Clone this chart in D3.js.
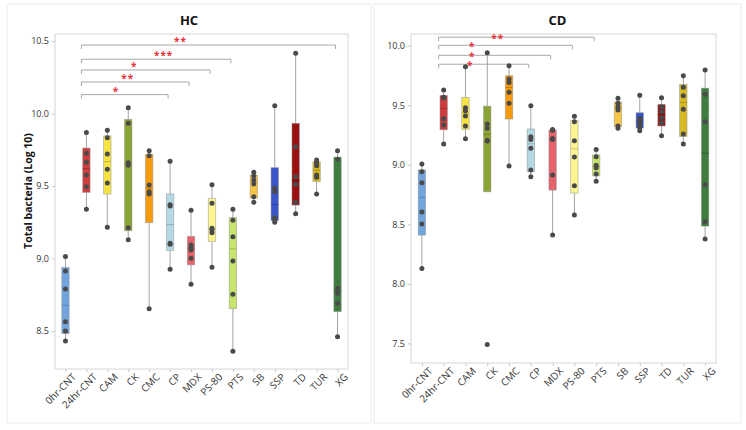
<!DOCTYPE html>
<html>
<head>
<meta charset="utf-8">
<script src="https://cdn.jsdelivr.net/npm/d3@7"></script>
<style>
  body { margin: 0; background: #fff; }
  svg { display: block; font-family: "Open Sans", "Noto Sans", sans-serif; }
</style>
</head>
<body>
<div id="root"><svg width="746" height="430"></svg></div>
<script>
// categories along the x axis
const categories = ['0hr-CNT', '24hr-CNT', 'CAM', 'CK', 'CMC', 'CP', 'MDX', 'PS-80', 'PTS', 'SB', 'SSP', 'TD', 'TUR', 'XG'];

// HC replicates (log10 total bacteria)
const hcValues = [
  [8.431, 8.500, 8.564, 8.790, 8.914, 9.013],
  [9.339, 9.495, 9.576, 9.663, 9.726, 9.868],
  [9.215, 9.521, 9.615, 9.721, 9.833, 9.884],
  [9.130, 9.212, 9.643, 9.661, 9.932, 10.040],
  [8.654, 9.445, 9.461, 9.507, 9.709, 9.743],
  [8.925, 9.098, 9.105, 9.362, 9.370, 9.670],
  [8.822, 9.001, 9.059, 9.077, 9.093, 9.332],
  [8.939, 9.178, 9.197, 9.208, 9.381, 9.509],
  [8.360, 8.753, 8.983, 9.150, 9.263, 9.339],
  [9.388, 9.426, 9.514, 9.541, 9.569, 9.594],
  [9.250, 9.266, 9.281, 9.461, 9.484, 10.054],
  [9.309, 9.388, 9.512, 9.564, 9.771, 10.415],
  [9.445, 9.560, 9.576, 9.640, 9.662, 9.679],
  [8.461, 8.691, 8.760, 8.794, 9.684, 9.743]
];

// CD replicates
const cdValues = [
  [8.129, 8.502, 8.603, 8.849, 8.941, 9.006],
  [9.174, 9.334, 9.387, 9.560, 9.566, 9.628],
  [9.218, 9.325, 9.409, 9.454, 9.479, 9.824],
  [7.491, 9.200, 9.205, 9.306, 9.342, 9.941],
  [8.989, 9.516, 9.608, 9.690, 9.720, 9.832],
  [8.899, 8.955, 9.138, 9.213, 9.235, 9.496],
  [8.409, 8.913, 9.213, 9.220, 9.290, 9.295],
  [8.577, 8.824, 9.065, 9.202, 9.361, 9.407],
  [8.861, 8.922, 8.975, 8.995, 9.067, 9.129],
  [9.306, 9.325, 9.460, 9.487, 9.516, 9.558],
  [9.286, 9.315, 9.348, 9.370, 9.388, 9.583],
  [9.244, 9.353, 9.395, 9.445, 9.487, 9.563],
  [9.174, 9.258, 9.466, 9.580, 9.650, 9.748],
  [8.376, 8.521, 8.832, 9.361, 9.592, 9.796]
];

const hcTicks = [8.5, 9.0, 9.5, 10.0, 10.5];
const cdTicks = [7.5, 8.0, 8.5, 9.0, 9.5, 10.0];

// significance brackets: all start at 24hr-CNT
const hcBrackets = [
  { to: 'XG', label: '**' },
  { to: 'PTS', label: '***' },
  { to: 'PS-80', label: '*' },
  { to: 'MDX', label: '**' },
  { to: 'CP', label: '*' }
];
const cdBrackets = [
  { to: 'PTS', label: '**' },
  { to: 'PS-80', label: '*' },
  { to: 'MDX', label: '*' },
  { to: 'CP', label: '*' }
];

// bracket heights (in y-axis units) and where the label sits along the bracket
const hcBracketLevels = [10.472, 10.374, 10.300, 10.217, 10.130];
const hcLabelAt = [0.39, 0.55, 0.41, 0.43, 0.40];
const cdBracketLevels = [10.071, 10.003, 9.919, 9.844];
const cdLabelAt = [0.38, 0.25, 0.30, 0.35];

const palette = ['#72a5de', '#d13b3e', '#f7e443', '#8ba434', '#f59b0c', '#b4d9e4', '#e5636a',
  '#fdf590', '#c7e56b', '#f8c547', '#3a55c9', '#9a1010', '#d7ba22', '#3f7d3f'];

// Minitab style quartiles: position p*(n+1)
function quart(sorted, p) {
  const n = sorted.length;
  const pos = p * (n + 1);
  if (pos <= 1) return sorted[0];
  if (pos >= n) return sorted[n - 1];
  const lo = Math.floor(pos);
  return sorted[lo - 1] + (pos - lo) * (sorted[lo] - sorted[lo - 1]);
}

function boxStats(vals) {
  const s = vals.slice().sort(d3.ascending);
  const q1 = quart(s, 0.25);
  const med = quart(s, 0.5);
  const q3 = quart(s, 0.75);
  const iqr = q3 - q1;
  const lo = d3.min(s.filter((v) => v >= q1 - 1.5 * iqr));
  const hi = d3.max(s.filter((v) => v <= q3 + 1.5 * iqr));
  return { q1, med, q3, lo, hi, vals: s };
}

function drawPanel(svg, opt) {
  const g = svg.append('g');

  // light outer card
  g.append('rect')
    .attr('x', opt.card[0]).attr('y', opt.card[1])
    .attr('width', opt.card[2]).attr('height', opt.card[3])
    .attr('fill', 'none').attr('stroke', '#ebebeb');

  g.append('text')
    .attr('x', opt.card[0] + opt.card[2] / 2)
    .attr('y', 25)
    .attr('text-anchor', 'middle')
    .attr('font-size', '13px')
    .attr('font-weight', 'bold')
    .attr('fill', '#111')
    .text(opt.title);

  const xScale = d3.scalePoint().domain(categories).range([opt.left, opt.right]).padding(0.5);
  const yScale = d3.scaleLinear().domain(opt.domain).range([opt.bottom, opt.top]);

  g.append('rect')
    .attr('x', opt.left).attr('y', opt.top)
    .attr('width', opt.right - opt.left).attr('height', opt.bottom - opt.top)
    .attr('fill', 'none').attr('stroke', '#d6d6d6');

  const yAxis = d3.axisLeft(yScale).tickValues(opt.ticks).tickFormat(d3.format('.1f')).tickSize(3);
  const yG = g.append('g').attr('transform', `translate(${opt.left} 0)`).call(yAxis);
  yG.select('.domain').remove();
  yG.selectAll('line').attr('stroke', '#c8c8c8');
  yG.selectAll('text').attr('font-size', '9px').attr('fill', '#333').attr('font-family', '"Open Sans", sans-serif');

  const xAxis = d3.axisBottom(xScale).tickSize(3);
  const xG = g.append('g').attr('transform', `translate(0 ${opt.bottom})`).call(xAxis);
  xG.select('.domain').remove();
  xG.selectAll('line').attr('stroke', '#c8c8c8');
  xG.selectAll('text')
    .attr('font-size', '10px').attr('fill', '#333').attr('font-family', '"Open Sans", sans-serif')
    .attr('text-anchor', 'end')
    .attr('dy', '0.35em')
    .attr('transform', 'translate(4 2) rotate(-45)');

  // brackets
  const x0 = xScale('24hr-CNT') - 5;
  opt.brackets.forEach((b, i) => {
    const x1 = xScale(b.to) - 2;
    const y = yScale(opt.levels[i]);
    g.append('path')
      .attr('d', `M${x0},${y + 4}V${y}H${x1}V${y + 4}`)
      .attr('fill', 'none').attr('stroke', '#a8a8a8').attr('stroke-width', 1);
    g.append('text')
      .attr('x', x0 + opt.labelAt[i] * (x1 - x0))
      .attr('y', y + opt.labelDy)
      .attr('text-anchor', 'middle')
      .attr('font-size', '10px')
      .attr('font-weight', 'bold')
      .attr('letter-spacing', '1px')
      .attr('fill', '#e8333a')
      .text(b.label);
  });

  const stats = opt.values.map(boxStats);
  const boxW = 7.4;

  const colG = g.selectAll('g.col').data(stats).enter()
    .append('g').attr('class', 'col')
    .attr('transform', (d, i) => `translate(${xScale(categories[i])} 0)`);

  colG.each(function(d, i) {
    const cg = d3.select(this);
    const c = palette[i];
    if (d.hi > d.q3) {
      cg.append('line').attr('x1', 0).attr('x2', 0)
        .attr('y1', yScale(d.hi)).attr('y2', yScale(d.q3))
        .attr('stroke', '#a3a3a3').attr('stroke-width', 1);
    }
    if (d.lo < d.q1) {
      cg.append('line').attr('x1', 0).attr('x2', 0)
        .attr('y1', yScale(d.q1)).attr('y2', yScale(d.lo))
        .attr('stroke', '#a3a3a3').attr('stroke-width', 1);
    }
    cg.append('rect')
      .attr('x', -boxW / 2).attr('width', boxW)
      .attr('y', yScale(d.q3)).attr('height', yScale(d.q1) - yScale(d.q3))
      .attr('fill', c)
      .attr('stroke', '#8f8f8f').attr('stroke-opacity', 0.6).attr('stroke-width', 0.8);
    cg.append('line')
      .attr('x1', -boxW / 2).attr('x2', boxW / 2)
      .attr('y1', yScale(d.med)).attr('y2', yScale(d.med))
      .attr('stroke', d3.color(c).darker(0.8)).attr('stroke-width', 0.8);
    cg.selectAll('circle').data(d.vals).enter()
      .append('circle')
      .attr('cx', 0).attr('cy', (v) => yScale(v))
      .attr('r', 2.5)
      .attr('fill', '#4a4a4a');
  });

  if (opt.yLabel) {
    g.append('text')
      .attr('transform', `translate(${opt.yLabelX} ${opt.yLabelY}) rotate(-90)`)
      .attr('text-anchor', 'middle')
      .attr('font-size', '10.5px')
      .attr('font-weight', 'bold')
      .attr('fill', '#111')
      .text(opt.yLabel);
  }
}

window.addEventListener('load', function() {
  const svg = d3.select('#root svg');
  drawPanel(svg, {
    title: 'HC', card: [7, 4, 364, 419],
    left: 55, right: 348, top: 34, bottom: 369,
    domain: [8.238, 10.548], ticks: hcTicks, values: hcValues,
    brackets: hcBrackets, levels: hcBracketLevels, labelAt: hcLabelAt, labelDy: 0,
    yLabel: 'Total bacteria (Log 10)', yLabelX: 32, yLabelY: 191
  });
  drawPanel(svg, {
    title: 'CD', card: [374, 4, 367, 419],
    left: 411, right: 716, top: 34, bottom: 363,
    domain: [7.335, 10.098], ticks: cdTicks, values: cdValues,
    brackets: cdBrackets, levels: cdBracketLevels, labelAt: cdLabelAt, labelDy: 5
  });
});
</script>
</body>
</html>
